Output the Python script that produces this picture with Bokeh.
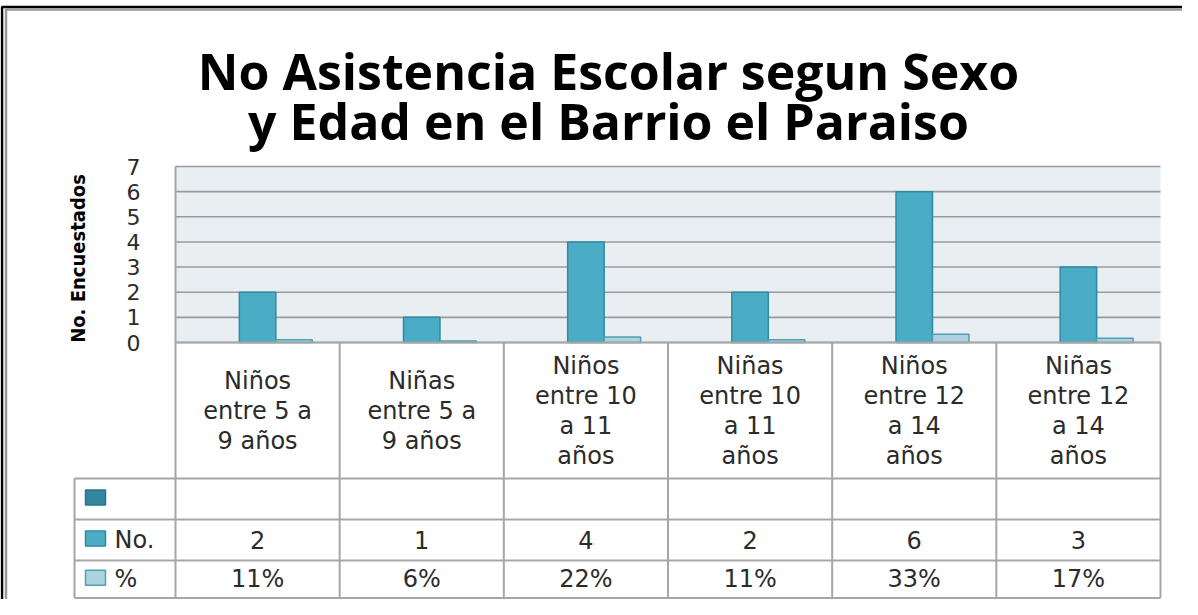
import numpy as np
from bokeh.plotting import figure
from bokeh.models import Range1d
from bokeh.core.properties import value
from bokeh.embed import file_html
from bokeh.resources import INLINE

# ---------------- data ----------------
title_lines = ["No Asistencia Escolar segun Sexo", "y Edad en el Barrio el Paraiso"]
y_label = "No. Encuestados"
categories = [
    "Niños\nentre 5 a\n9 años",
    "Niñas\nentre 5 a\n9 años",
    "Niños\nentre 10\na 11\naños",
    "Niñas\nentre 10\na 11\naños",
    "Niños\nentre 12\na 14\naños",
    "Niñas\nentre 12\na 14\naños",
]
series_names = ["", "No.", "%"]
no_vals = [2, 1, 4, 2, 6, 3]
pct_vals = [0.11, 0.06, 0.22, 0.11, 0.33, 0.17]
y_ticks = [0, 1, 2, 3, 4, 5, 6, 7]

# ---------------- layout (pixels of the page) ----------------
W, H = 1182, 599
OX, OY = 8, 8
PL, PR, PT, PB = 183, 1168, 174, 350
n_cat = len(categories)
CW = (PR - PL) / n_cat
RH = (PB - PT) / y_ticks[-1]


def X(ix):
    return (ix - PL) / CW


def Y(iy):
    return (PB - iy) / RH


p = figure(width=W, height=H,
           x_range=Range1d(X(OX), X(OX + W)), y_range=Range1d(Y(OY + H), Y(OY)),
           min_border=0, toolbar_location=None, output_backend="svg",
           x_axis_location=None, y_axis_location=None)
p.outline_line_color = None
p.grid.visible = False
p.background_fill_color = "white"
p.border_fill_color = "white"

FONT = value("DejaVu Sans")
TXT = "#2b2b2b"
GRID = "#9a9a9a"
TAB = "#a6a6a6"
C_BLANK, C_BLANK_L = "#31859c", "#2a7488"
C_NO, C_NO_L = "#4bacc6", "#2f8aa3"
C_PCT, C_PCT_L = "#acd2e0", "#4f9fb5"

# plot area background
p.quad(left=[0], right=[n_cat], bottom=[y_ticks[0]], top=[y_ticks[-1]],
       fill_color="#e8eef1", line_color=None)

# gridlines
p.segment(x0=[0] * len(y_ticks), x1=[n_cat] * len(y_ticks), y0=y_ticks, y1=y_ticks,
          line_color=GRID, line_width=1.6)

# bars
BW = 1 / 4.5
xc = np.arange(n_cat) + 0.5
p.vbar(x=xc, top=no_vals, bottom=0, width=BW,
       fill_color=C_NO, line_color=C_NO_L, line_width=1.5)
p.vbar(x=xc + BW, top=pct_vals, bottom=0, width=BW,
       fill_color=C_PCT, line_color=C_PCT_L, line_width=1.5)

# y tick labels
p.text(x=[X(141)] * len(y_ticks), y=y_ticks, text=[str(t) for t in y_ticks],
       text_font=FONT, text_font_size="22px", text_color=TXT,
       text_align="center", text_baseline="middle")

# y axis title
p.text(x=[X(85)], y=[Y(266)], text=[y_label], angle=np.pi / 2,
       text_font=value("DejaVu Sans Condensed"), text_font_style="bold",
       text_font_size="20px", text_color="black",
       text_align="center", text_baseline="middle")

# title
p.text(x=[X(616)] * 2, y=[Y(78), Y(128)], text=title_lines,
       text_font=value("Open Sans"), text_font_style="bold",
       text_font_size="50px", text_color="black",
       text_align="center", text_baseline="alphabetic")

# table grid
T_TOP, R1, R2, R3, T_BOT = 486, 527, 568, 605.5, 605.5
LEG_L = 82
hx0 = [0, X(LEG_L), X(LEG_L), X(LEG_L), X(LEG_L)]
hy = [Y(PB), Y(T_TOP), Y(R1), Y(R2), Y(R3)]
p.segment(x0=hx0, x1=[n_cat] * len(hy), y0=hy, y1=hy, line_color=TAB, line_width=2)
vx = list(range(n_cat + 1)) + [X(LEG_L), 0]
vy0 = [Y(PB)] * (n_cat + 1) + [Y(T_TOP), Y(PB)]
vy1 = [Y(T_BOT)] * (n_cat + 1) + [Y(T_BOT), y_ticks[-1]]
p.segment(x0=vx, x1=vx, y0=vy0, y1=vy1, line_color=TAB, line_width=2)

# category labels (multi-line, centred in their cells)
LH = 30
cx, cy, ct = [], [], []
for i, cat in enumerate(categories):
    lines = cat.split("\n")
    n = len(lines)
    for k, line in enumerate(lines):
        cx.append(i + 0.5)
        cy.append(Y((PB + T_TOP) / 2 + (k - (n - 1) / 2) * LH))
        ct.append(line)
p.text(x=cx, y=cy, text=ct, text_font=FONT, text_font_size="24px",
       text_color=TXT, text_align="center", text_baseline="middle")

# data table values
p.text(x=xc, y=[Y((R1 + R2) / 2)] * n_cat, text=[str(v) for v in no_vals],
       text_font=FONT, text_font_size="24px", text_color=TXT,
       text_align="center", text_baseline="middle")
p.text(x=xc, y=[Y((R2 + R3) / 2)] * n_cat, text=[f"{round(v * 100)}%" for v in pct_vals],
       text_font=FONT, text_font_size="24px", text_color=TXT,
       text_align="center", text_baseline="middle")

# legend keys and series names
row_c = [(T_TOP + R1) / 2, (R1 + R2) / 2, (R2 + R3) / 2]
p.rect(x=[X(103)] * 3, y=[Y(c - 1.5) for c in row_c], width=20, height=15,
       width_units="screen", height_units="screen",
       fill_color=[C_BLANK, C_NO, C_PCT], line_color=[C_BLANK_L, C_NO_L, C_PCT_L],
       line_width=1.5)
p.text(x=[X(122)] * 3, y=[Y(c) for c in row_c], text=series_names,
       text_font=FONT, text_font_size="24px", text_color=TXT,
       text_align="left", text_baseline="middle")

# outer frame of the picture
p.line(x=[X(9.5), X(9.5), X(1300)], y=[Y(700), Y(14.5), Y(14.5)],
       line_color="black", line_width=2.5)
p.line(x=[X(13.5), X(13.5), X(1300)], y=[Y(700), Y(17), Y(17)],
       line_color="#9a9a9a", line_width=2.5)

open("out.html", "w").write(file_html(p, INLINE))
